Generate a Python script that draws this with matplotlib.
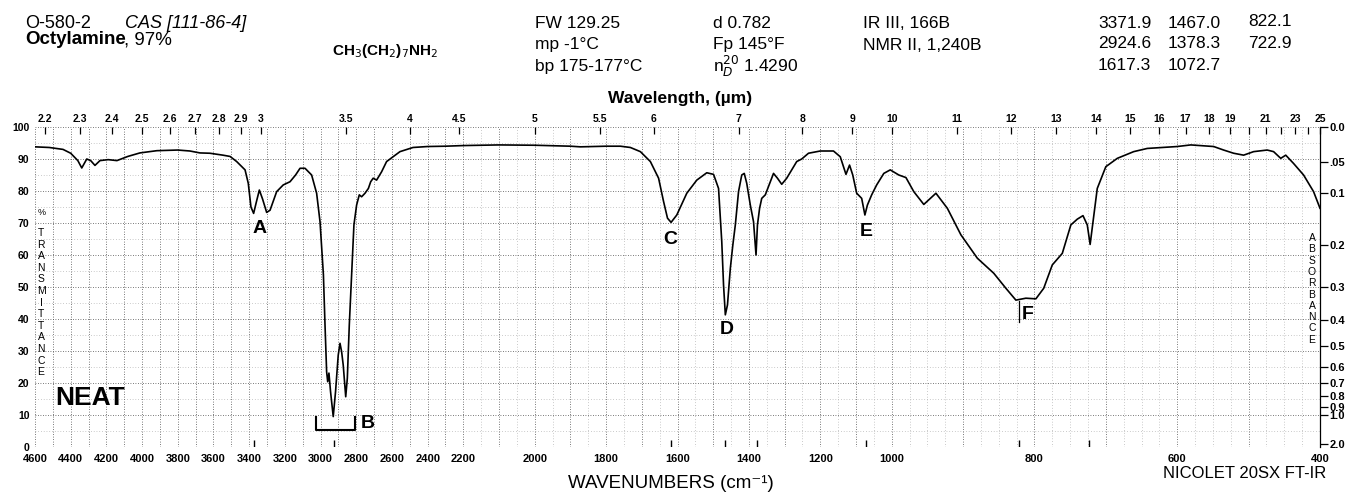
import numpy as np
import matplotlib
matplotlib.use("Agg")
import matplotlib.pyplot as plt

plt.rcParams['font.family'] = ['Liberation Sans', 'DejaVu Sans']

W, H = 1345, 492

# spectrum: wavenumber (cm-1) and %T
wavenumber = [
    4600, 4520, 4443, 4400, 4360, 4338, 4310, 4288, 4264, 4236, 4190, 4141,
    4080, 4012, 3917, 3800, 3732, 3676, 3620, 3547, 3507, 3470, 3423, 3405,
    3390, 3375, 3360, 3343, 3325, 3302, 3283, 3246, 3209, 3171, 3140, 3115,
    3087, 3050, 3022, 3003, 2984, 2975, 2966, 2960, 2953, 2944, 2929, 2916,
    2901, 2891, 2882, 2873, 2859, 2850, 2839, 2826, 2813, 2798, 2783, 2770,
    2751, 2732, 2719, 2705, 2686, 2658, 2630, 2555, 2482, 2400, 2300, 2200,
    2100, 2000, 1900, 1872, 1800, 1760, 1732, 1704, 1676, 1653, 1639, 1628,
    1618, 1602, 1574, 1546, 1518, 1499, 1485, 1476, 1471, 1466, 1460, 1452,
    1445, 1438, 1429, 1420, 1413, 1406, 1396, 1387, 1380, 1376, 1370, 1364,
    1354, 1345, 1331, 1320, 1308, 1294, 1266, 1252, 1233, 1200, 1163, 1144,
    1135, 1128, 1118, 1109, 1098, 1084, 1075, 1068, 1056, 1042, 1022, 1004,
    990, 980, 969, 955, 938, 922, 903, 880, 857, 840, 826, 812,
    798, 787, 775, 761, 749, 740, 732, 726, 722, 718, 712, 700,
    684, 661, 642, 600, 581, 549, 535, 521, 507, 493, 474, 465,
    455, 448, 437, 423, 409, 400,
]
transmittance = [
    93.8, 93.6, 93.0, 91.8, 89.5, 87.2, 90.0, 89.5, 88.0, 89.5, 89.8, 89.5,
    90.8, 91.9, 92.6, 92.8, 92.5, 91.9, 91.8, 91.2, 90.8, 89.2, 86.6, 82.4,
    75.0, 73.0, 76.5, 80.3, 77.5, 73.3, 74.0, 79.8, 81.9, 82.9, 85.0, 87.1,
    87.1, 85.0, 79.3, 70.4, 53.8, 38.1, 23.5, 20.4, 23.1, 17.3, 9.5, 17.3,
    28.7, 32.4, 29.8, 25.6, 15.7, 21.5, 38.1, 53.8, 69.4, 75.6, 78.8, 78.2,
    79.3, 80.8, 82.9, 84.0, 83.4, 86.0, 89.2, 92.3, 93.6, 93.9, 94.0, 94.2,
    94.4, 94.3, 94.0, 93.8, 94.0, 94.0, 93.6, 92.3, 89.2, 84.0, 76.7, 71.5,
    70.2, 72.5, 79.3, 83.4, 85.7, 85.2, 80.8, 64.2, 50.6, 41.3, 44.4, 55.8,
    63.1, 69.4, 79.8, 85.0, 85.5, 82.4, 75.6, 70.4, 60.0, 69.4, 74.6, 77.7,
    78.8, 81.4, 85.5, 84.0, 82.1, 84.0, 89.2, 90.0, 91.8, 92.5, 92.5, 90.7,
    87.6, 85.2, 88.1, 85.0, 79.3, 77.7, 72.5, 75.6, 78.8, 81.9, 85.5, 86.6,
    85.0, 84.2, 79.8, 75.8, 79.3, 74.6, 66.3, 59.0, 54.3, 49.6, 45.9, 46.5,
    46.3, 49.6, 56.9, 60.5, 69.4, 71.2, 72.3, 69.4, 63.3, 70.4, 80.8, 87.6,
    90.2, 92.3, 93.3, 93.9, 94.4, 93.9, 92.8, 91.8, 91.2, 92.3, 92.8, 92.3,
    90.2, 91.2, 88.6, 85.0, 79.8, 74.6,
]

peak_marks = [3371.9, 2924.6, 1617.3, 1467.0, 1378.3, 1072.7, 822.1, 722.9]
peak_letters = ["A", "B", "C", "D", "E", "F"]
letter_wn = [3340, 2735, 1620, 1461, 1072, 810]
letter_t = [68.4, 7.2, 64.7, 36.6, 67.2, 41.3]

wn_ticks = [4600, 4400, 4200, 4000, 3800, 3600, 3400, 3200, 3000, 2800, 2600,
            2400, 2200, 2000, 1800, 1600, 1400, 1200, 1000, 800, 600, 400]
um_ticks = [2.2, 2.3, 2.4, 2.5, 2.6, 2.7, 2.8, 2.9, 3, 3.5, 4, 4.5, 5, 5.5, 6,
            7, 8, 9, 10, 11, 12, 13, 14, 15, 16, 17, 18, 19, 20, 21, 22, 23, 24, 25]
um_labels = ["2.2", "2.3", "2.4", "2.5", "2.6", "2.7", "2.8", "2.9", "3", "3.5",
             "4", "4.5", "5", "5.5", "6", "7", "8", "9", "10", "11", "12", "13",
             "14", "15", "16", "17", "18", "19", "", "21", "", "23", "", "25"]
abs_ticks = [0.0, 0.05, 0.1, 0.2, 0.3, 0.4, 0.5, 0.6, 0.7, 0.8, 0.9, 1.0, 2.0]
abs_labels = ["0.0", ".05", "0.1", "0.2", "0.3", "0.4", "0.5", "0.6", "0.7",
              "0.8", "0.9", "1.0", "2.0"]

# chart paper: 4600-2200 at 1x, 2200-1000 at 2x, 1000-400 at 4x
BP_WN = [400, 1000, 2200, 4600]
BP_U = [0, 2400, 4800, 7200]


def fwd(x):
    return np.interp(x, BP_WN, BP_U)


def inv(u):
    return np.interp(u, BP_U, BP_WN)


def ftext(x, y, s, **kw):
    kw.setdefault('va', 'center')
    fig.text(x / W, 1 - y / H, s, **kw)


fig = plt.figure(figsize=(W / 100, H / 100), dpi=100)
ax = fig.add_axes([35 / W, 45 / H, 1285 / W, 320 / H])
ax.set_xscale('function', functions=(fwd, inv))
ax.set_xlim(4600, 400)
ax.set_ylim(0, 100)

# grid
grid_v = list(range(4600, 399, -100))
minor_v = list(range(2150, 399, -100)) + list(range(975, 399, -50))
ax.vlines(minor_v, 0, 100, colors='0.6', linestyles=(0, (1, 3)), lw=0.5)
ax.hlines(np.arange(5, 100, 10), 4600, 400, colors='0.6', linestyles=(0, (1, 3)), lw=0.5)
ax.vlines(grid_v, 0, 100, colors='0.3', linestyles=(0, (1, 2)), lw=0.6)
ax.hlines(np.arange(0, 101, 10), 4600, 400, colors='0.3', linestyles=(0, (1, 2)), lw=0.6)

ax.plot(wavenumber, transmittance, color='black', lw=1.2)

# peak marks along the bottom
ax.vlines(peak_marks, 0, 2.3, colors='black', lw=1.0)
ax.plot([822, 822], [39, 45.5], color='black', lw=0.9)

for s, x, y in zip(peak_letters, letter_wn, letter_t):
    ax.text(x, y, s, ha='center', va='center', fontsize=14, fontweight='bold')
ax.plot([3026, 3026, 2808, 2808], [9.5, 5.3, 5.3, 9.5], color='black', lw=1.5)

ax.text(4290, 15.3, "NEAT", ha='center', va='center', fontsize=19, fontweight='bold')

for s in ['top', 'left', 'bottom', 'right']:
    ax.spines[s].set_visible(False)

ax.set_xticks(wn_ticks)
ax.set_xticklabels([str(t) for t in wn_ticks])
ax.xaxis.set_minor_locator(matplotlib.ticker.NullLocator())
ax.tick_params(axis='x', length=0, pad=5, labelsize=8)
ax.set_yticks(np.arange(0, 101, 10))
ax.tick_params(axis='y', length=0, pad=4, labelsize=7.5)
for lab in ax.get_xticklabels() + ax.get_yticklabels():
    lab.set_fontweight('bold')

# wavelength axis on top
top = ax.twiny()
top.set_xscale('function', functions=(fwd, inv))
top.set_xlim(4600, 400)
top.set_xticks([1e4 / w for w in um_ticks])
top.set_xticklabels(um_labels)
top.xaxis.set_minor_locator(matplotlib.ticker.NullLocator())
top.tick_params(axis='x', direction='in', length=5, width=0.9, pad=2, labelsize=7.5)
for lab in top.get_xticklabels():
    lab.set_fontweight('bold')
for s in ['top', 'left', 'bottom', 'right']:
    top.spines[s].set_visible(False)

# absorbance axis on the right
right = ax.twinx()
right.set_ylim(0, 100)
right.set_yticks([100 * 10 ** (-a) for a in abs_ticks])
right.set_yticklabels(abs_labels)
right.tick_params(axis='y', direction='out', length=6, width=0.9, pad=1, labelsize=8)
for lab in right.get_yticklabels():
    lab.set_fontweight('bold')
for s in ['top', 'left', 'bottom']:
    right.spines[s].set_visible(False)
right.spines['right'].set_linewidth(0.9)

# side captions
ftext(42, 213, "%", fontsize=6.5, ha='center')
for i, ch in enumerate("TRANSMITTANCE"):
    ftext(41, 233 + i * 11.6, ch, fontsize=7.5, ha='center')
for i, ch in enumerate("ABSORBANCE"):
    ftext(1312, 238 + i * 11.3, ch, fontsize=7.5, ha='center')

ftext(680, 99, "Wavelength, (\u00b5m)", fontsize=12.5, fontweight='bold', ha='center')
ftext(671, 483, "WAVENUMBERS (cm\u207b\u00b9)", fontsize=13.5, ha='center')
ftext(1245, 474, "NICOLET 20SX FT-IR", fontsize=12, ha='center')

# header
hs = 12.5
ftext(25, 23, "O-580-2", fontsize=13)
ftext(125, 23, "CAS [111-86-4]", fontsize=13, style='italic')
ftext(25, 40, "Octylamine", fontsize=13.5, fontweight='bold')
ftext(124, 40, ", 97%", fontsize=13.5)
ftext(332, 51, r"CH$_3$(CH$_2$)$_7$NH$_2$", fontsize=11, fontweight='bold')
ftext(535, 23, "FW 129.25", fontsize=hs)
ftext(535, 45, "mp -1\u00b0C", fontsize=hs)
ftext(535, 66, "bp 175-177\u00b0C", fontsize=hs)
ftext(713, 23, "d 0.782", fontsize=hs)
ftext(713, 45, "Fp 145\u00b0F", fontsize=hs)
ftext(713, 66, r"n$^{20}_{D}$ 1.4290", fontsize=hs)
ftext(863, 23, "IR III, 166B", fontsize=hs)
ftext(863, 45, "NMR II, 1,240B", fontsize=hs)
ftext(1098, 23, "3371.9", fontsize=hs)
ftext(1098, 44, "2924.6", fontsize=hs)
ftext(1098, 66, "1617.3", fontsize=hs)
ftext(1168, 23, "1467.0", fontsize=hs)
ftext(1168, 44, "1378.3", fontsize=hs)
ftext(1168, 66, "1072.7", fontsize=hs)
ftext(1248, 22, "822.1", fontsize=hs)
ftext(1248, 43, "722.9", fontsize=hs)

fig.savefig("out.png", dpi=100)
